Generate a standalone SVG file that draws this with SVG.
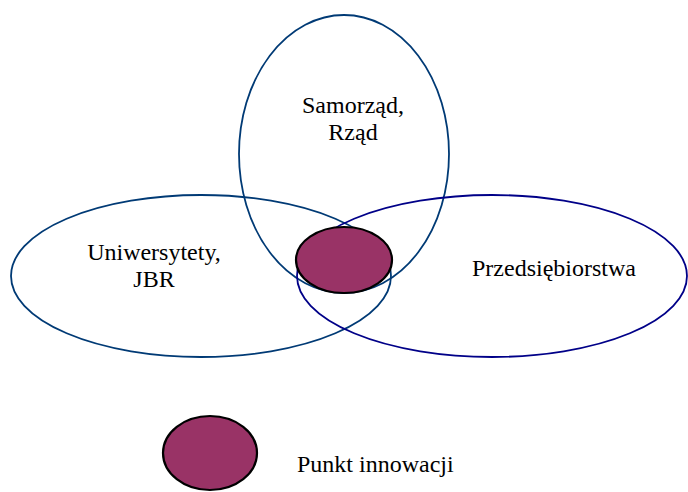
<svg xmlns="http://www.w3.org/2000/svg" width="688" height="492" viewBox="0 0 688 492">
<style>
.set{fill:none;stroke-width:1.8}
.a{stroke:#003a75}
.b{stroke:#000088}
.pt{fill:#993366;stroke:#000;stroke-width:2.2}
text{font-size:24px;fill:#000}
.c{text-anchor:middle}
</style>
<rect width="688" height="492" fill="#fff"/>
<g font-family="'Liberation Serif', 'Times New Roman', 'DejaVu Serif', serif">
<g id="gov"><ellipse class="set a" cx="344" cy="154" rx="105" ry="139"/><text class="c" x="353" y="113">Samorząd,</text><text class="c" x="353" y="140">Rząd</text></g>
<g id="uni"><ellipse class="set a" cx="201" cy="276" rx="190" ry="81"/><text class="c" x="154" y="260">Uniwersytety,</text><text class="c" x="154" y="287">JBR</text></g>
<g id="biz"><ellipse class="set b" cx="492" cy="276" rx="195" ry="81"/><text class="c" x="554" y="276">Przedsiębiorstwa</text></g>
<g id="point"><ellipse class="pt" cx="344" cy="260" rx="48" ry="33"/></g>
<g id="legend"><ellipse class="pt" cx="210" cy="453" rx="47" ry="37"/><text x="297" y="472">Punkt innowacji</text></g>
</g>
<g id="connectors"/>
</svg>
